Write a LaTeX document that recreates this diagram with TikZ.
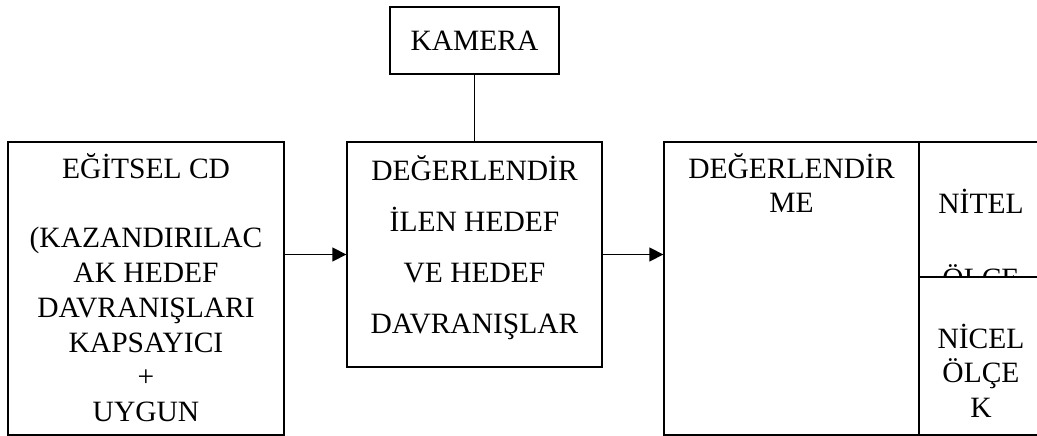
\documentclass[tikz,border=0pt]{standalone}
\usepackage{fontspec}
\setmainfont{Liberation Serif}
\usetikzlibrary{arrows.meta}
\tikzset{
  box/.style={draw, line width=1.3pt, inner sep=0pt},
  txt/.style={align=center, inner sep=0pt, anchor=base,
              font=\fontsize{29.5}{34.8}\selectfont},
  link/.style={line width=1.3pt, -{Triangle[length=14pt,width=14pt]}}
}
\begin{document}
\begin{tikzpicture}[x=1pt,y=-1pt]
            \clip (0,0) rectangle (1037,436);

            % boxes
            \node[box, minimum width=169pt, minimum height=67pt,
                  font=\fontsize{29.5}{34.8}\selectfont] (kamera) at (474.5,40.5) {KAMERA};
            \node[box, minimum width=276pt, minimum height=293pt] (cd)    at (146,288.5) {};
            \node[box, minimum width=255pt, minimum height=225pt] (mid)   at (474.5,254.5) {};
            \node[box, minimum width=255pt, minimum height=293pt] (eval)  at (791.5,288.5) {};
            \node[box, minimum width=124pt, minimum height=135pt] (nitel) at (981,209.5) {};
            \node[box, minimum width=124pt, minimum height=158pt] (nicel) at (981,356) {};

            % texts (placed at the baseline of their last line)
            \node[txt] (cdtext) at (146,421.6)
                {EĞİTSEL CD\\[34.8pt] (KAZANDIRILAC\\AK HEDEF\\DAVRANIŞLARI\\KAPSAYICI\\+\\UYGUN};
            \node[txt, font=\fontsize{29.5}{51.3}\selectfont] (midtext) at (474.5,333.9)
                {DEĞERLENDİR\\İLEN HEDEF\\VE HEDEF\\DAVRANIŞLAR};
            \node[txt] (evaltext) at (791.5,212.8) {DEĞERLENDİR\\ME};
            \node[txt] (niteltext) at (981,213) {NİTEL};
            \begin{scope}
                \clip (nitel.north west) rectangle (nitel.south east);
                \node[txt] (nitelolcek) at (981,288) {ÖLÇE};
            \end{scope}
            \node[txt] (niceltext) at (981,417.6) {NİCEL\\ÖLÇE\\K};

            % connectors
            \draw[line width=1.3pt] (kamera.south) -- (mid.north);
            \draw[link] (cd.east |- mid.west) -- (mid.west);
            \draw[link] (mid.east) -- (mid.east -| eval.west);
\end{tikzpicture}
\end{document}
